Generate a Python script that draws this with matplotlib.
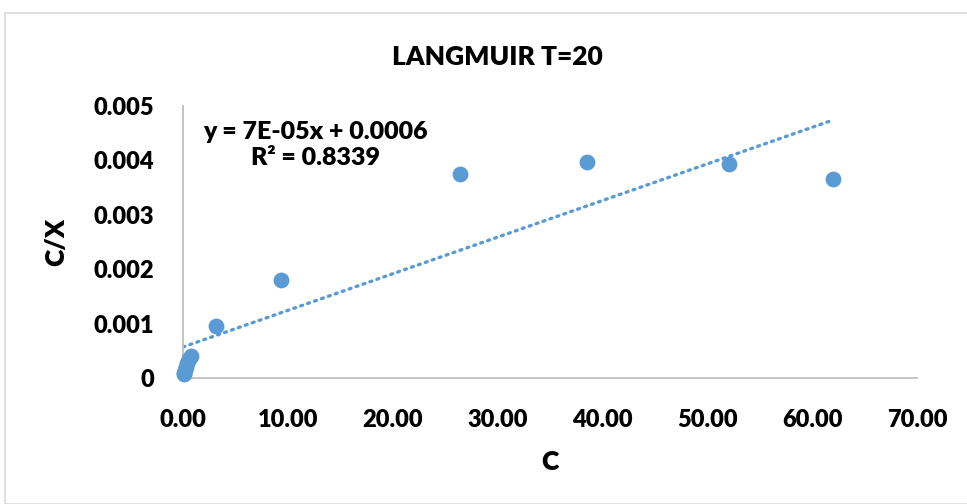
import numpy as np
import matplotlib.pyplot as plt
from matplotlib.patches import Rectangle

# data
C = [0.05, 0.10, 0.15, 0.25, 0.40, 0.60, 0.75, 3.1, 9.3, 26.4, 38.5, 52.1, 62.0]
CX = [0.00007, 0.00010, 0.00014, 0.00020, 0.00028, 0.00035, 0.00040,
      0.00096, 0.00180, 0.00375, 0.00397, 0.00393, 0.00366]
slope = 6.73e-05
intercept = 0.00057
xticks = [0, 10, 20, 30, 40, 50, 60, 70]
yticks = [0, 0.001, 0.002, 0.003, 0.004, 0.005]
ylabels = ['0', '0.001', '0.002', '0.003', '0.004', '0.005']

plt.rcParams['font.family'] = ['Lato', 'DejaVu Sans']
plt.rcParams['font.weight'] = 'heavy'

blue = '#5b9bd5'
fig = plt.figure(figsize=(9.67, 5.04), dpi=100)
fig.patches.append(Rectangle((5/967, 0), 1, 1 - 13/504, transform=fig.transFigure,
                             fill=False, edgecolor='#d9d9d9', linewidth=1.2))
ax = fig.add_axes([183/967, 1 - 378/504, 734/967, 272/504])

ax.scatter(C, CX, s=130, color=blue, zorder=3, linewidths=0, clip_on=False)
xl = np.array([0, max(C)])
ax.plot(xl, slope * xl + intercept, linestyle=(0, (0.6, 1.6)), color=blue,
        linewidth=2.4, dash_capstyle='round')

ax.set_xlim(0, 70)
ax.set_ylim(0, 0.005)
ax.set_xticks(xticks)
ax.set_xticklabels(['%.2f' % v for v in xticks])
ax.set_yticks(yticks)
ax.set_yticklabels(ylabels)
ax.tick_params(length=0, labelsize=17, labelcolor='black')
ax.tick_params(axis='x', pad=22)
ax.tick_params(axis='y', pad=21)
for s in ['top', 'right']:
    ax.spines[s].set_visible(False)
for s in ['left', 'bottom']:
    ax.spines[s].set_color('#bfbfbf')
    ax.spines[s].set_linewidth(1.3)

ax.set_xlabel('C', fontsize=19, fontweight='heavy', labelpad=14)
ax.set_ylabel('C/X', fontsize=19, fontweight='heavy', labelpad=18)
fig.text(497/967, 1 - 57/504, 'LANGMUIR T=20', ha='center', va='center',
         fontsize=19, fontweight='heavy')
ax.text(12.6, 0.00472, 'y = 7E-05x + 0.0006\nR² = 0.8339', ha='center', va='top',
        fontsize=18, fontweight='heavy', linespacing=1.2)

plt.savefig('out.png', dpi=100)
